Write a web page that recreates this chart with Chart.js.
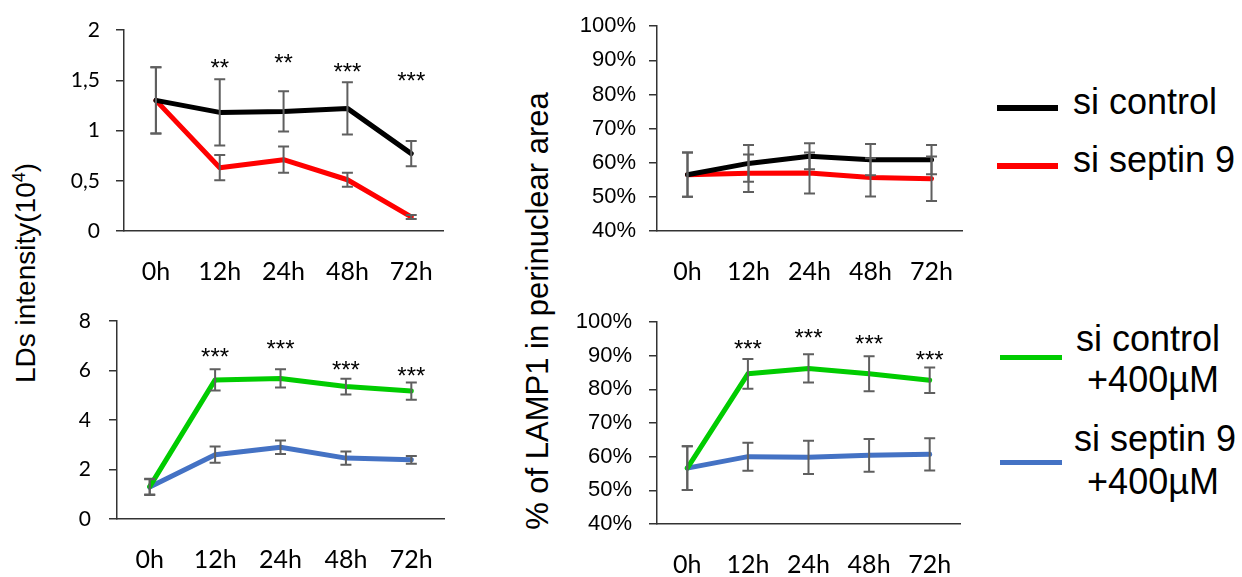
<!DOCTYPE html>
<html>
<head>
<meta charset="utf-8">
<script src="https://cdn.jsdelivr.net/npm/chart.js@4"></script>
<style>
  html, body { margin: 0; padding: 0; background: #fff; }
  #wrap { position: relative; width: 1242px; height: 577px; overflow: hidden; background: #fff; }
  canvas { position: absolute; }
  .ttl { position: absolute; white-space: nowrap; font-family: "Liberation Sans", Arial, sans-serif; color: #000; line-height: 1; transform: translate(-50%, -50%) rotate(-90deg); }
  .lg { position: absolute; white-space: nowrap; font-family: "Liberation Sans", Arial, sans-serif; font-size: 36px; line-height: 36px; color: #000; }
  .sw { position: absolute; }
</style>
</head>
<body>
<div id="wrap">
  <canvas id="c1" width="400" height="290" style="left:60px;top:0px"></canvas>
  <canvas id="c2" width="410" height="290" style="left:570px;top:0px"></canvas>
  <canvas id="c3" width="400" height="287" style="left:60px;top:290px"></canvas>
  <canvas id="c4" width="410" height="287" style="left:570px;top:290px"></canvas>

  <div class="ttl" id="tLeft" style="left:26px;top:273px;font-size:28px">LDs intensity(10<sup style="font-size:18px;vertical-align:10px;line-height:0">4</sup>)</div>
  <div class="ttl" id="tRight" style="left:537px;top:311px;font-size:31px">% of LAMP1 in perinuclear area</div>

  <div class="sw" style="left:997px;top:105px;width:61px;height:6px;background:#000"></div>
  <div class="lg" style="left:1073px;top:84px" id="lg1"></div>
  <div class="sw" style="left:997px;top:163px;width:61px;height:6px;background:#ff0000"></div>
  <div class="lg" style="left:1073px;top:142px" id="lg2"></div>

  <div class="sw" style="left:1000px;top:355px;width:62px;height:5px;background:#00cc00"></div>
  <div class="lg" style="left:1148px;top:321px;transform:translateX(-50%);text-align:center" id="lg3a"></div>
  <div class="lg" style="left:1153px;top:362px;transform:translateX(-50%);text-align:center" id="lg3b"></div>
  <div class="sw" style="left:1000px;top:460px;width:62px;height:5px;background:#4472c4"></div>
  <div class="lg" style="left:1155px;top:421px;transform:translateX(-50%);text-align:center" id="lg4a"></div>
  <div class="lg" style="left:1153px;top:464px;transform:translateX(-50%);text-align:center" id="lg4b"></div>
</div>
<script>
// ---------- DATA ----------
const hours = ['0h', '12h', '24h', '48h', '72h'];

const seriesNames = ['si control', 'si septin 9', 'si control', '+400µM', 'si septin 9', '+400µM'];

// Panel A: LDs intensity (x10^4), no oleate
const ldsControl = [1.30, 1.18, 1.19, 1.22, 0.77];
const ldsControlErr = [0.33, 0.33, 0.20, 0.26, 0.125];
const ldsSeptin = [1.30, 0.63, 0.71, 0.51, 0.14];
const ldsSeptinErr = [0.33, 0.125, 0.13, 0.07, 0.02];
const ldsStars = ['', '**', '**', '***', '***'];
const ldsStarsY = [null, 1.68, 1.73, 1.64, 1.55];
const ldsTicks = ['0', '0,5', '1', '1,5', '2'];

// Panel B: % LAMP1 in perinuclear area, no oleate
const lampControl = [56.5, 59.8, 61.9, 60.9, 60.9];
const lampControlErr = [6.5, 5.4, 3.8, 4.6, 4.3];
const lampSeptin = [56.5, 56.9, 57.0, 55.7, 55.3];
const lampSeptinErr = [6.5, 5.5, 6.0, 5.6, 6.5];
const lampTicks = ['40%', '50%', '60%', '70%', '80%', '90%', '100%'];

// Panel C: LDs intensity (x10^4), +400µM
const ldsOaControl = [1.31, 5.62, 5.68, 5.35, 5.17];
const ldsOaControlErr = [0.32, 0.43, 0.37, 0.32, 0.35];
const ldsOaSeptin = [1.29, 2.60, 2.90, 2.46, 2.39];
const ldsOaSeptinErr = [0.32, 0.33, 0.27, 0.27, 0.16];
const ldsOaStars = ['', '***', '***', '***', '***'];
const ldsOaStarsY = [null, 6.76, 7.10, 6.26, 5.99];
const ldsOaTicks = ['0', '2', '4', '6', '8'];

// Panel D: % LAMP1 in perinuclear area, +400µM
const lampOaControl = [56.6, 84.6, 86.2, 84.6, 82.7];
const lampOaControlErr = [6.5, 4.4, 4.2, 5.2, 3.8];
const lampOaSeptin = [56.6, 60.0, 59.8, 60.4, 60.7];
const lampOaSeptinErr = [6.5, 4.15, 4.95, 4.85, 4.8];
const lampOaStars = ['', '***', '***', '***', '***'];
const lampOaStarsY = [null, 93.8, 96.8, 95.3, 90.3];

// ---------- legend text ----------
document.getElementById('lg1').textContent = seriesNames[0];
document.getElementById('lg2').textContent = seriesNames[1];
document.getElementById('lg3a').textContent = seriesNames[2];
document.getElementById('lg3b').textContent = seriesNames[3];
document.getElementById('lg4a').textContent = seriesNames[4];
document.getElementById('lg4b').textContent = seriesNames[5];

// ---------- plugins ----------
const errorBarPlugin = {
  id: 'errbars',
  afterDatasetsDraw(chart) {
    const ctx = chart.ctx;
    const ys = chart.scales.y;
    ctx.save();
    ctx.strokeStyle = '#5f5f5f';
    ctx.lineWidth = 2;
    chart.data.datasets.forEach((ds, di) => {
      const meta = chart.getDatasetMeta(di);
      if (!ds.errors) return;
      meta.data.forEach((pt, i) => {
        const v = ds.data[i], e = ds.errors[i];
        if (v == null || e == null) return;
        const x = pt.x;
        const yT = ys.getPixelForValue(v + e);
        const yB = ys.getPixelForValue(v - e);
        const cw = 5.5;
        ctx.beginPath();
        ctx.moveTo(x, yT); ctx.lineTo(x, yB);
        ctx.moveTo(x - cw, yT); ctx.lineTo(x + cw, yT);
        ctx.moveTo(x - cw, yB); ctx.lineTo(x + cw, yB);
        ctx.stroke();
      });
    });
    ctx.restore();
  }
};

const starsPlugin = {
  id: 'stars',
  afterDraw(chart, args, opts) {
    if (!opts || !opts.labels) return;
    const ctx = chart.ctx;
    const xs = chart.scales.x, ys = chart.scales.y;
    ctx.save();
    ctx.fillStyle = '#000';
    const size = 24;
    ctx.font = size + 'px "Liberation Sans", Arial, sans-serif';
    ctx.textAlign = 'center';
    ctx.textBaseline = 'alphabetic';
    opts.labels.forEach((lab, i) => {
      if (!lab || opts.values[i] == null) return;
      const x = xs.getPixelForValue(i);
      const y = ys.getPixelForValue(opts.values[i]);
      ctx.fillText(lab, x, y + 0.57 * size);
    });
    ctx.restore();
  }
};

// ---------- builder ----------
function makePanel(id, cfg) {
  const axisColor = '#333';
  const ds = cfg.series.map(s => ({
    data: s.data,
    errors: s.err,
    borderColor: s.color,
    backgroundColor: s.color,
    borderWidth: 5,
    pointRadius: 0,
    pointHoverRadius: 0,
    tension: 0,
    borderCapStyle: 'round',
    borderJoinStyle: 'round',
    fill: false
  }));
  return new Chart(document.getElementById(id), {
    type: 'line',
    data: { labels: hours, datasets: ds },
    plugins: [errorBarPlugin, starsPlugin],
    options: {
      responsive: false,
      animation: false,
      events: [],
      layout: { padding: { top: cfg.padTop, right: cfg.padRight, left: 0, bottom: 0 } },
      plugins: {
        legend: { display: false },
        tooltip: { enabled: false },
        stars: cfg.stars || {}
      },
      scales: {
        x: {
          type: 'category',
          offset: true,
          grid: { display: false, drawTicks: false },
          border: { display: true, color: axisColor, width: 1.5 },
          ticks: {
            color: '#000',
            padding: cfg.xPad,
            maxRotation: 0,
            autoSkip: false,
            font: { family: 'Lato, "Open Sans", sans-serif', size: 25 }
          },
          afterFit(scale) { scale.height = cfg.xH; }
        },
        y: {
          min: cfg.min, max: cfg.max,
          grid: { display: true, drawOnChartArea: false, drawTicks: true, tickLength: 8, color: axisColor, lineWidth: 1.5 },
          border: { display: true, color: axisColor, width: 1.5 },
          ticks: {
            stepSize: cfg.step,
            color: '#000',
            padding: cfg.yPad,
            font: { family: cfg.yFont, size: cfg.yFontSize },
            callback: (v, i) => cfg.tickLabels[i]
          },
          afterFit(scale) { scale.width = cfg.yW; }
        }
      }
    }
  });
}

makePanel('c1', {
  series: [
    { data: ldsControl, err: ldsControlErr, color: '#000000' },
    { data: ldsSeptin, err: ldsSeptinErr, color: '#ff0000' }
  ],
  stars: { labels: ldsStars, values: ldsStarsY },
  min: 0, max: 2, step: 0.5, tickLabels: ldsTicks,
  yW: 64, padTop: 30, padRight: 13, xH: 59, xPad: 26, yPad: 16,
  yFont: 'Lato, "Open Sans", sans-serif', yFontSize: 21
});

makePanel('c2', {
  series: [
    { data: lampControl, err: lampControlErr, color: '#000000' },
    { data: lampSeptin, err: lampSeptinErr, color: '#ff0000' }
  ],
  min: 40, max: 100, step: 10, tickLabels: lampTicks,
  yW: 87, padTop: 25, padRight: 10, xH: 59, xPad: 26, yPad: 13,
  yFont: '"Liberation Sans", Arial, sans-serif', yFontSize: 22
});

makePanel('c3', {
  series: [
    { data: ldsOaControl, err: ldsOaControlErr, color: '#00cc00' },
    { data: ldsOaSeptin, err: ldsOaSeptinErr, color: '#4472c4' }
  ],
  stars: { labels: ldsOaStars, values: ldsOaStarsY },
  min: 0, max: 8, step: 2, tickLabels: ldsOaTicks,
  yW: 57, padTop: 31, padRight: 12, xH: 58, xPad: 26, yPad: 18,
  yFont: 'Lato, "Open Sans", sans-serif', yFontSize: 21
});

makePanel('c4', {
  series: [
    { data: lampOaControl, err: lampOaControlErr, color: '#00cc00' },
    { data: lampOaSeptin, err: lampOaSeptinErr, color: '#4472c4' }
  ],
  stars: { labels: lampOaStars, values: lampOaStarsY },
  min: 40, max: 100, step: 10, tickLabels: lampTicks,
  yW: 87, padTop: 32, padRight: 20, xH: 53, xPad: 26, yPad: 17,
  yFont: '"Liberation Sans", Arial, sans-serif', yFontSize: 22
});
</script>
</body>
</html>
